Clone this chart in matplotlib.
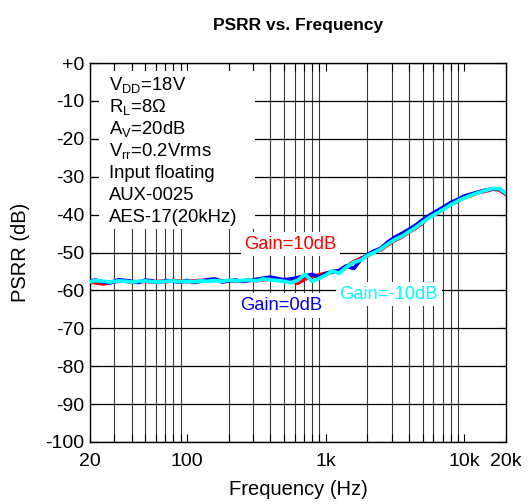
import numpy as np
import matplotlib
matplotlib.use("Agg")
import matplotlib.pyplot as plt
from matplotlib.patches import Rectangle
from matplotlib.ticker import FixedLocator, FixedFormatter, NullFormatter

plt.rcParams['font.family'] = ['Liberation Sans', 'DejaVu Sans']
plt.rcParams['mathtext.fontset'] = 'custom'
plt.rcParams['mathtext.rm'] = 'Liberation Sans'
plt.rcParams['mathtext.it'] = 'Liberation Sans:italic'

# measured PSRR (dB) vs frequency (Hz) for three gain settings
freq = [20, 22, 25, 28, 32, 36, 40, 45, 50, 56, 63, 71, 80, 90, 100,
        112, 125, 140, 160, 180, 200, 224, 250, 280, 315, 355, 400, 450, 500,
        560, 630, 710, 800, 900, 1000, 1120, 1250, 1400, 1600, 1800, 2000,
        2240, 2500, 2800, 3150, 3550, 4000, 4500, 5000, 5600, 6300, 7100,
        8000, 9000, 10000, 11200, 12500, 14000, 16000, 18000, 20000]

psrr_10db = [-57.8, -58.0, -58.3, -57.9, -57.6, -57.5, -57.9, -57.7, -57.6,
             -57.8, -57.6, -57.7, -57.4, -57.6, -57.7, -57.5, -57.4, -57.3,
             -57.2, -57.5, -57.4, -57.6, -57.5, -57.3, -57.4, -57.2, -57.0,
             -57.3, -57.5, -57.6, -58.1, -57.0, -56.4, -55.9, -55.5, -55.2,
             -54.9, -53.8, -52.4, -51.5, -50.9, -49.8, -49.3, -48.0, -46.8,
             -45.9, -44.6, -43.5, -42.2, -40.6, -39.8, -38.5, -37.2, -36.5,
             -35.4, -35.0, -34.2, -33.9, -33.3, -33.5, -34.7]

psrr_0db = [-57.5, -57.3, -57.8, -58.0, -57.2, -57.4, -57.6, -57.9, -57.3,
            -57.5, -57.9, -57.4, -57.6, -57.8, -57.4, -57.9, -57.6, -57.2,
            -57.0, -57.8, -57.5, -57.3, -57.6, -57.4, -57.1, -56.8, -56.5,
            -56.9, -57.2, -57.0, -56.6, -56.2, -55.8, -56.5, -55.6, -55.0,
            -54.8, -53.6, -54.2, -51.8, -50.6, -49.6, -48.9, -47.3, -46.0,
            -45.0, -43.9, -42.7, -41.4, -40.2, -39.1, -38.0, -36.8, -36.0,
            -35.1, -34.6, -34.1, -33.6, -33.2, -33.3, -34.5]

psrr_m10db = [-57.7, -57.4, -57.6, -57.8, -57.5, -57.6, -57.8, -57.6, -57.5,
              -57.7, -57.8, -57.6, -57.5, -57.7, -57.6, -57.7, -57.5, -57.6,
              -57.4, -57.6, -57.3, -57.5, -57.4, -57.2, -57.5, -57.0, -57.2,
              -57.4, -57.6, -58.0, -57.3, -55.8, -57.6, -56.8, -56.0, -54.9,
              -55.5, -54.0, -52.6, -52.0, -50.8, -50.0, -49.1, -47.8, -46.6,
              -45.7, -44.5, -43.3, -42.0, -40.8, -39.7, -38.6, -37.4, -36.4,
              -35.6, -34.9, -34.3, -33.7, -33.1, -33.2, -34.4]

xtick_vals = [20, 100, 1000, 10000, 20000]
xtick_text = ['20', '100', '1k', '10k', '20k']
xgrid_vals = [20, 30, 40, 50, 60, 70, 80, 90, 100, 200, 300, 400, 500, 600,
              700, 800, 900, 1000, 2000, 3000, 4000, 5000, 6000, 7000, 8000,
              9000, 10000]
ytick_vals = list(range(-100, 1, 10))
ytick_text = ['+0' if v == 0 else str(v) for v in ytick_vals]

conditions = ['V$_{\\mathregular{DD}}$=18V',
              'R$_{\\mathregular{L}}$=8\u03a9',
              'A$_{\\mathregular{V}}$=20dB',
              'V$_{\\mathregular{rr}}$=0.2Vrms',
              'Input floating',
              'AUX-0025',
              'AES-17(20kHz)']

fig = plt.figure(figsize=(5.29, 5.04), dpi=100)
ax = fig.add_axes([90 / 529, 1 - 442 / 504, 416 / 529, 379 / 504])

ax.set_xscale('log')
ax.set_xlim(20, 20000)
ax.set_ylim(-100, 0)

ax.xaxis.set_major_locator(FixedLocator(xtick_vals))
ax.xaxis.set_major_formatter(FixedFormatter(xtick_text))
ax.xaxis.set_minor_locator(FixedLocator(xgrid_vals))
ax.xaxis.set_minor_formatter(NullFormatter())
ax.set_yticks(ytick_vals)
ax.set_yticklabels(ytick_text)

ax.tick_params(which='both', direction='in', top=True, right=True,
               length=6, width=0.8, color='black')
ax.tick_params(axis='x', which='major', labelsize=14, pad=8)
ax.tick_params(axis='y', labelsize=14, pad=4)

# grid: black horizontals, grey verticals
ax.grid(True, axis='y', which='major', color='black', linewidth=0.9)
ax.grid(True, axis='x', which='minor', color='#3a3a3a', linewidth=0.8)
for s in ax.spines.values():
    s.set_linewidth(1.0)

ax.plot(freq, psrr_10db, color='#ff0000', linewidth=2.7, zorder=4)
ax.plot(freq, psrr_0db, color='#0000ee', linewidth=2.7, zorder=5)
ax.plot(freq, psrr_m10db, color='#00ffff', linewidth=2.7, zorder=6)

# white panel behind the test conditions, leaving the tick marks visible
ax.add_patch(Rectangle((0.022, 0.562), 0.375, 0.417, transform=ax.transAxes,
                       facecolor='white', edgecolor='none', zorder=3))
line_step = 22 / 379
for i, txt in enumerate(conditions):
    ax.text(0.046, (442 - 90) / 379 - i * line_step, txt,
            transform=ax.transAxes, fontsize=13.3, va='baseline',
            ha='left', zorder=3.5)

label_box = dict(boxstyle='square,pad=0.2', facecolor='white', edgecolor='none')
ax.text(560, -47.8, 'Gain=10dB', color='#ff0000', fontsize=13.2,
        ha='center', va='center', zorder=7, bbox=label_box)
ax.text(477, -64.0, 'Gain=0dB', color='#0000ee', fontsize=13.2,
        ha='center', va='center', zorder=7, bbox=label_box)
ax.text(2860, -61.0, 'Gain=-10dB', color='#00ffff', fontsize=13.2,
        ha='center', va='center', zorder=7, bbox=label_box)

ax.set_title('PSRR vs. Frequency', fontsize=12.5, fontweight='bold', pad=24)
ax.set_xlabel('Frequency (Hz)', fontsize=14.5, labelpad=7)
ax.set_ylabel('PSRR (dB)', fontsize=14.5, labelpad=11)

fig.savefig('out.png', dpi=100)
